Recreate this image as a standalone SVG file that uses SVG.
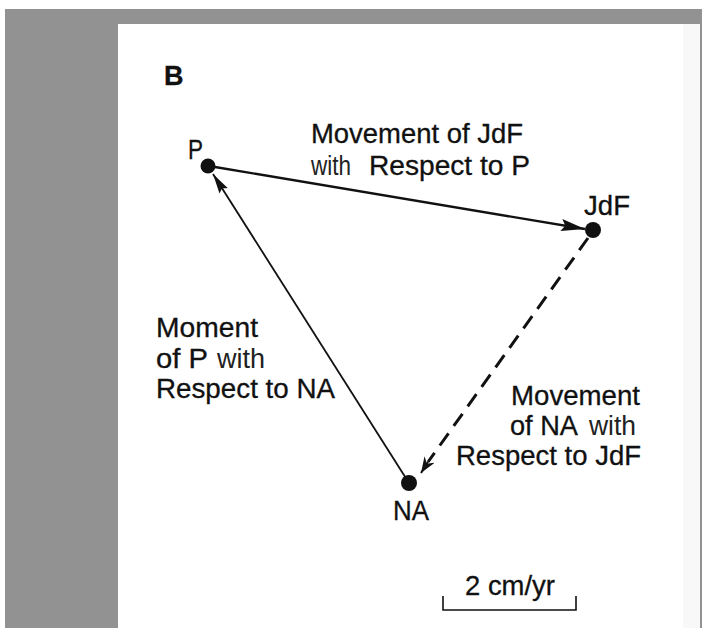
<svg xmlns="http://www.w3.org/2000/svg" width="702" height="628" viewBox="0 0 702 628">
  <defs>
    <marker id="ahBig" markerUnits="userSpaceOnUse" markerWidth="26" markerHeight="14" refX="24" refY="6" orient="auto">
      <path d="M0,0 L24,6 L0,12 L4,6 z" fill="#111"/>
    </marker>
    <marker id="ahThin" markerUnits="userSpaceOnUse" markerWidth="22" markerHeight="12" refX="20" refY="5" orient="auto">
      <path d="M0,0 L20,5 L0,10 L3,5 z" fill="#111"/>
    </marker>
    <marker id="ahDash" markerUnits="userSpaceOnUse" markerWidth="18" markerHeight="14" refX="16" refY="6" orient="auto">
      <path d="M0,0 L16,6 L0,12 L5,6 z" fill="#111"/>
    </marker>
  </defs>
  <style>
    .lbl { font-family: "Liberation Sans", Arial, Helvetica, sans-serif; font-size: 27px; fill: #111; stroke: #111; stroke-width: 0.3px; }
    .thin { fill: #222; stroke: none; }
    .dot { fill: #111; }
    .conn { stroke: #111; fill: none; }
  </style>

  <!-- page frame -->
  <rect x="0" y="0" width="702" height="628" fill="#ffffff"/>
  <rect x="5" y="9" width="697" height="15" fill="#929292"/>
  <rect x="5" y="9" width="113" height="619" fill="#929292"/>
  <rect x="683" y="24" width="17" height="604" fill="#f8f8f8"/>
  <rect x="700" y="9" width="2" height="619" fill="#929292"/>

  <text class="lbl" x="164" y="85" font-weight="bold" font-size="22">B</text>

  <g id="connectors">
    <line class="conn" x1="215" y1="167" x2="585" y2="229" stroke-width="2.4" marker-end="url(#ahBig)"/>
    <line class="conn" x1="409" y1="483" x2="213" y2="174" stroke-width="1.8" marker-end="url(#ahThin)"/>
    <line class="conn" x1="588" y1="238" x2="428" y2="462" stroke-width="3" stroke-dasharray="15 9"/>
    <line class="conn" x1="428" y1="462" x2="421" y2="473" stroke-width="2" marker-end="url(#ahDash)"/>
  </g>

  <g id="node-P">
    <circle class="dot" cx="208" cy="166" r="7.5"/>
    <text class="lbl" x="188" y="159" textLength="15" lengthAdjust="spacingAndGlyphs">P</text>
  </g>

  <g id="node-JdF">
    <circle class="dot" cx="593" cy="230" r="8"/>
    <text class="lbl" x="584" y="215" textLength="46" lengthAdjust="spacingAndGlyphs">JdF</text>
  </g>

  <g id="node-NA">
    <circle class="dot" cx="409" cy="483" r="8"/>
    <text class="lbl" x="393" y="520" textLength="36" lengthAdjust="spacingAndGlyphs">NA</text>
  </g>

  <g id="label-JdF-P">
    <text class="lbl" x="311" y="143" textLength="212" lengthAdjust="spacingAndGlyphs">Movement of JdF</text>
    <text class="lbl thin" x="311" y="175" textLength="40" lengthAdjust="spacingAndGlyphs">with</text>
    <text class="lbl" x="369" y="175" textLength="161" lengthAdjust="spacingAndGlyphs">Respect to P</text>
  </g>

  <g id="label-P-NA">
    <text class="lbl" x="156" y="337" textLength="102" lengthAdjust="spacingAndGlyphs">Moment</text>
    <text class="lbl" x="156" y="368" textLength="52" lengthAdjust="spacingAndGlyphs">of P</text>
    <text class="lbl thin" x="217" y="368" textLength="48" lengthAdjust="spacingAndGlyphs">with</text>
    <text class="lbl" x="156" y="398" textLength="179" lengthAdjust="spacingAndGlyphs">Respect to NA</text>
  </g>

  <g id="label-NA-JdF">
    <text class="lbl" x="511" y="405" textLength="129" lengthAdjust="spacingAndGlyphs">Movement</text>
    <text class="lbl" x="510" y="435" textLength="68" lengthAdjust="spacingAndGlyphs">of NA</text>
    <text class="lbl thin" x="589" y="435" textLength="47" lengthAdjust="spacingAndGlyphs">with</text>
    <text class="lbl" x="456" y="465" textLength="185" lengthAdjust="spacingAndGlyphs">Respect to JdF</text>
  </g>

  <g id="scale-bar">
    <text class="lbl" x="465" y="595" font-size="24" textLength="90" lengthAdjust="spacingAndGlyphs">2 cm/yr</text>
    <path d="M443,596 L443,610 L576,610 L576,596" stroke="#111" stroke-width="1.6" fill="none"/>
  </g>
</svg>
